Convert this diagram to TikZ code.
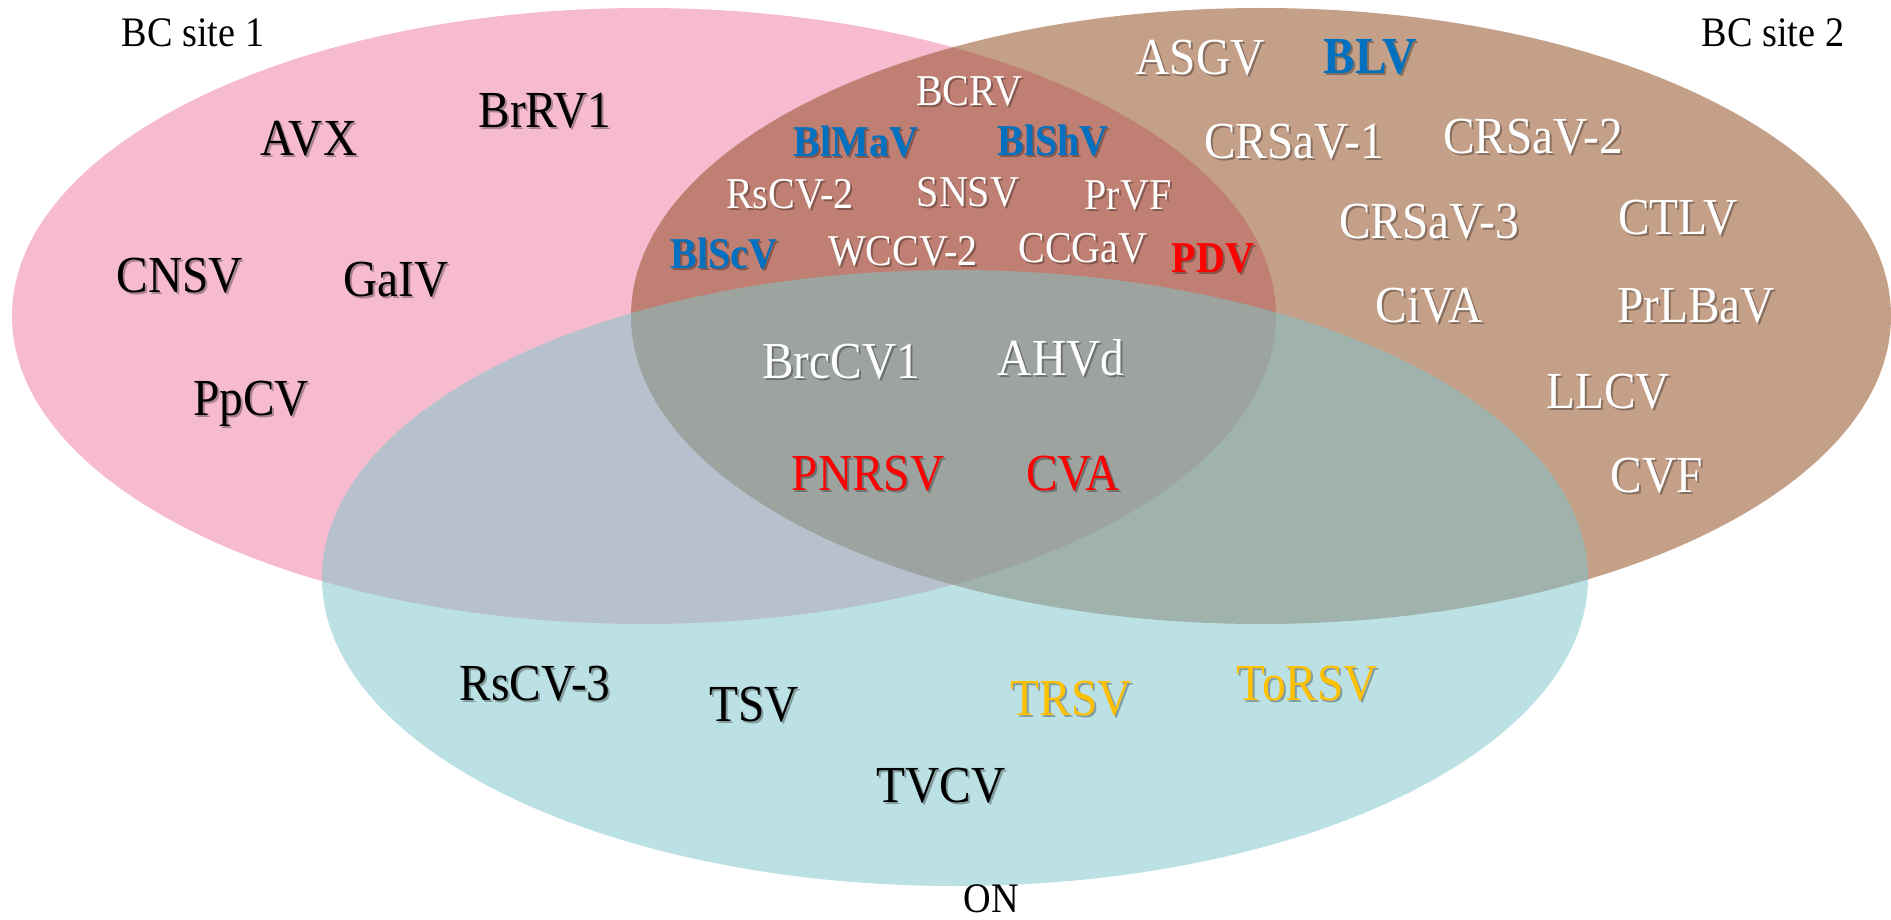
\documentclass[tikz,border=0pt]{standalone}
\usepackage{fontspec}
\setmainfont{Liberation Serif}
\newfontfamily\narrowserif[FakeStretch=0.91]{Liberation Serif}
\begin{document}
\definecolor{sitepink}{RGB}{246,187,207}
\definecolor{sitebrown}{RGB}{142,73,29}
\definecolor{sitecyan}{RGB}{127,198,204}
\definecolor{vblue}{RGB}{0,112,192}
\definecolor{vred}{RGB}{255,0,0}
\definecolor{vyellow}{RGB}{255,192,0}
% one label: a soft shadow node under the coloured text node
\newcommand\vlabel[4]{%
  \node[#1, shadowtext] (#2-sh) at #3 {#4};
  \node[#1] (#2) at #3 {#4};
}
\begin{tikzpicture}[x=1pt,y=-1pt,
  big/.style={font=\narrowserif\fontsize{52}{56}\selectfont, inner sep=0pt},
  small/.style={font=\narrowserif\fontsize{44}{48}\selectfont, inner sep=0pt},
  dark/.style={big, text=black},
  light/.style={big, text=white},
  lightsm/.style={small, text=white},
  bluesm/.style={small, text=vblue, font=\narrowserif\fontsize{44}{48}\selectfont\bfseries},
  redbig/.style={big, text=vred},
  redsm/.style={small, text=vred, font=\narrowserif\fontsize{44}{48}\selectfont\bfseries},
  bluebig/.style={big, text=vblue, font=\narrowserif\fontsize{52}{56}\selectfont\bfseries},
  yellowbig/.style={big, text=vyellow},
  shadowtext/.style={text=black, text opacity=0.3, xshift=2pt, yshift=-2pt},
  setname/.style={font=\narrowserif\fontsize{42}{46}\selectfont, inner sep=0pt, text=black}]
\useasboundingbox (0,0) rectangle (1891,920);
% the three sites
\fill[sitepink] (644,316) ellipse [x radius=632pt, y radius=308pt];
\fill[sitebrown, fill opacity=0.52] (1261,316) ellipse [x radius=630pt, y radius=308pt];
\fill[sitecyan, fill opacity=0.52] (955,578) ellipse [x radius=633pt, y radius=308pt];
% set names
\node[setname] (bc1) at (193,33) {BC site 1};
\node[setname] (bc2) at (1773,33) {BC site 2};
\node[setname] (on) at (991,899) {ON};
% BC site 1 only
\vlabel{dark}{avx}{(309,139)}{AVX}
\vlabel{dark}{brrv}{(545,111)}{BrRV1}
\vlabel{dark}{cnsv}{(180,276)}{CNSV}
\vlabel{dark}{gaiv}{(396,280)}{GaIV}
\vlabel{dark}{ppcv}{(251,404)}{PpCV}
% BC site 1 and BC site 2
\vlabel{lightsm}{bcrv}{(969,91)}{BCRV}
\vlabel{bluesm}{blmav}{(856,142)}{BlMaV}
\vlabel{bluesm}{blshv}{(1053,141)}{BlShV}
\vlabel{lightsm}{rscv2}{(790,194)}{RsCV-2}
\vlabel{lightsm}{snsv}{(968,192)}{SNSV}
\vlabel{lightsm}{prvf}{(1128,195)}{PrVF}
\vlabel{bluesm}{blscv}{(724,254)}{BlScV}
\vlabel{lightsm}{wccv}{(903,251)}{WCCV-2}
\vlabel{lightsm}{ccgav}{(1083,248)}{CCGaV}
\vlabel{redsm}{pdv}{(1213,258)}{PDV}
% all three
\vlabel{light}{brccv}{(841,362)}{BrcCV1}
\vlabel{light}{ahvd}{(1061,358)}{AHVd}
\vlabel{redbig}{pnrsv}{(868,474)}{PNRSV}
\vlabel{redbig}{cva}{(1073,474)}{CVA}
% BC site 2 only
\vlabel{light}{asgv}{(1200,58)}{ASGV}
\vlabel{bluebig}{blv}{(1370,57)}{BLV}
\vlabel{light}{crsav1}{(1294,142)}{CRSaV-1}
\vlabel{light}{crsav2}{(1533,137)}{CRSaV-2}
\vlabel{light}{crsav3}{(1429,222)}{CRSaV-3}
\vlabel{light}{ctlv}{(1678,218)}{CTLV}
\vlabel{light}{civa}{(1429,306)}{CiVA}
\vlabel{light}{prlbav}{(1696,306)}{PrLBaV}
\vlabel{light}{llcv}{(1608,392)}{LLCV}
\vlabel{light}{cvf}{(1657,476)}{CVF}
% ON only
\vlabel{dark}{rscv3}{(535,684)}{RsCV-3}
\vlabel{dark}{tsv}{(754,705)}{TSV}
\vlabel{dark}{tvcv}{(941,786)}{TVCV}
\vlabel{yellowbig}{trsv}{(1071,699)}{TRSV}
\vlabel{yellowbig}{torsv}{(1307,684)}{ToRSV}
\end{tikzpicture}
\end{document}
